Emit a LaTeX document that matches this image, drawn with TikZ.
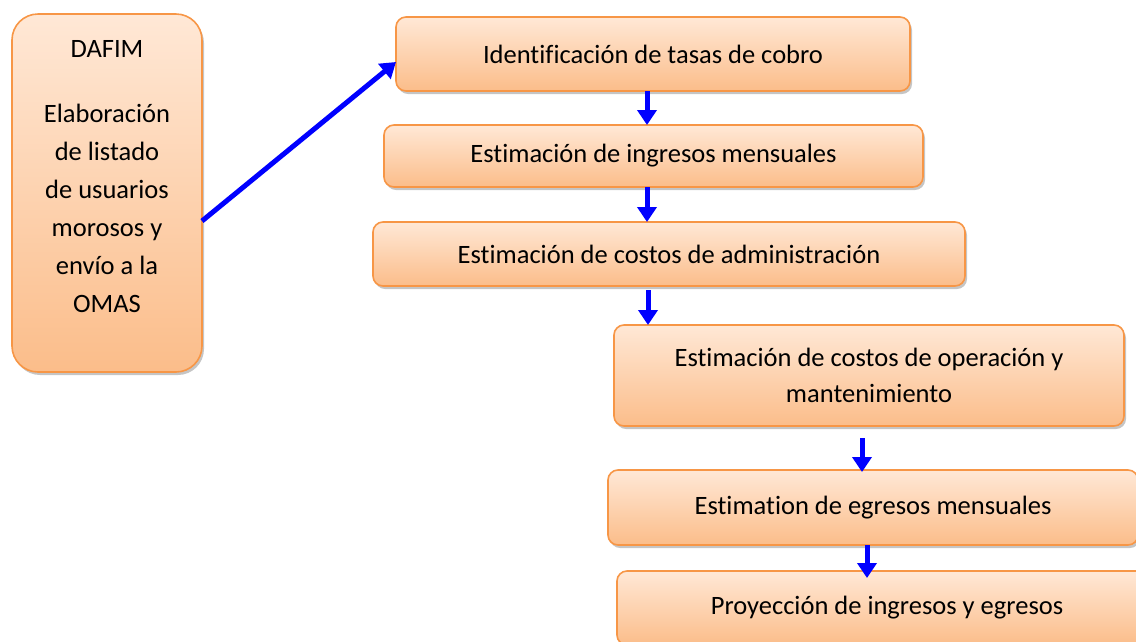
\documentclass[tikz,border=0pt]{standalone}
\usepackage{fontspec}
\setmainfont[Ligatures=CommonOff]{Carlito}
\usetikzlibrary{arrows.meta,shadows}

\definecolor{borde}{HTML}{F79646}
\definecolor{arriba}{HTML}{FFE8D6}
\definecolor{abajo}{HTML}{FBBD8A}

\begin{document}
\begin{tikzpicture}[x=1pt,y=-1pt,
  caja/.style={draw=borde, line width=1.6pt, rounded corners=10pt,
    top color=arriba, bottom color=abajo, inner sep=0pt, outer sep=0pt,
    align=center, font=\fontsize{26.5}{37}\selectfont,
    drop shadow={shadow xshift=2pt, shadow yshift=-3pt, fill=black!45}},
  flecha/.style={draw=blue, line width=5pt,
    -{Triangle[width=19pt,length=15pt]}}]
  \useasboundingbox (0,0) rectangle (1136,641);
  % left box
  \node[caja, rounded corners=26pt, minimum width=190, minimum height=358,
    font=\fontsize{26.5}{38}\selectfont]
    (dafim) at (107,193)
    {DAFIM\\[27pt]Elaboración\\de listado\\de usuarios\\morosos y\\envío a la\\OMAS\\[-4pt]\mbox{}};
  % chain of steps
  \node[caja, minimum width=514, minimum height=74] (tasas) at (653,54)
    {Identificación de tasas de cobro};
  \node[caja, minimum width=539, minimum height=62] (ingresos) at (653.5,156)
    {Estimación de ingresos mensuales};
  \node[caja, minimum width=592, minimum height=64] (admin) at (669,254)
    {Estimación de costos de administración};
  \node[caja, minimum width=510, minimum height=101,
    font=\fontsize{26.5}{36}\selectfont] (oper) at (869,375.5)
    {Estimación de costos de operación y\\mantenimiento};
  \node[caja, minimum width=530, minimum height=75] (egresos) at (873,507.5)
    {Estimation de egresos mensuales};
  \node[caja, minimum width=540, minimum height=74] (proy) at (887,608)
    {Proyección de ingresos y egresos};
  % arrows
  \draw[flecha] ([yshift=-28pt]dafim.east) -- ([yshift=-8pt]tasas.west);
  \draw[flecha] ([xshift=-6pt]tasas.south) -- ([xshift=-6.5pt]ingresos.north);
  \draw[flecha] ([xshift=-6.5pt]ingresos.south) -- ([xshift=-22pt]admin.north);
  \draw[flecha] ([xshift=-21pt,yshift=-4pt]admin.south) -- ([xshift=-221pt]oper.north);
  \draw[flecha] ([xshift=-7pt,yshift=-12pt]oper.south) -- ([xshift=-11pt,yshift=-2pt]egresos.north);
  \draw[flecha] ([xshift=-6pt]egresos.south) -- ([xshift=-20pt,yshift=-7pt]proy.north);
\end{tikzpicture}
\end{document}
